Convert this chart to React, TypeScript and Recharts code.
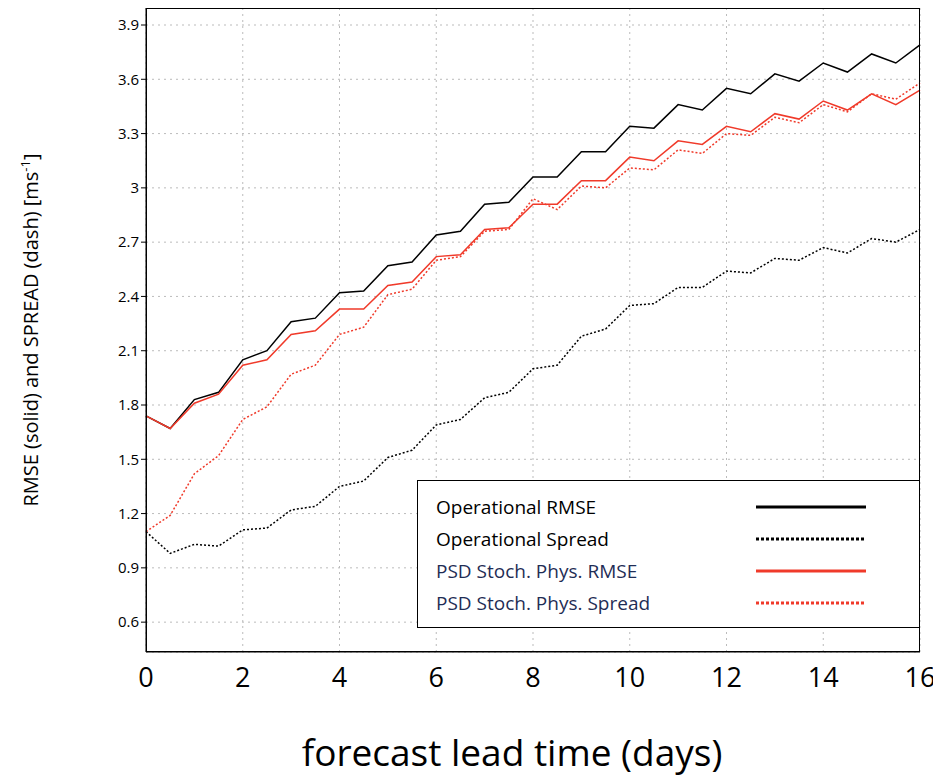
import React from "react";
import { LineChart, Line, XAxis, YAxis, CartesianGrid } from "recharts";

const days = [0,0.5,1,1.5,2,2.5,3,3.5,4,4.5,5,5.5,6,6.5,7,7.5,8,8.5,9,9.5,10,10.5,11,11.5,12,12.5,13,13.5,14,14.5,15,15.5,16];
const opRmse = [1.74,1.67,1.83,1.87,2.05,2.10,2.26,2.28,2.42,2.43,2.57,2.59,2.74,2.76,2.91,2.92,3.06,3.06,3.20,3.20,3.34,3.33,3.46,3.43,3.55,3.52,3.63,3.59,3.69,3.64,3.74,3.69,3.79];
const opSpread = [1.1,0.98,1.03,1.02,1.11,1.12,1.22,1.24,1.35,1.38,1.51,1.55,1.69,1.72,1.84,1.87,2.00,2.02,2.18,2.22,2.35,2.36,2.45,2.45,2.54,2.53,2.61,2.60,2.67,2.64,2.72,2.70,2.77];
const psdRmse = [1.74,1.67,1.81,1.86,2.02,2.05,2.19,2.21,2.33,2.33,2.46,2.48,2.62,2.63,2.77,2.78,2.91,2.91,3.04,3.04,3.17,3.15,3.26,3.24,3.34,3.31,3.41,3.38,3.48,3.43,3.52,3.46,3.54];
const psdSpread = [1.1,1.19,1.42,1.52,1.72,1.79,1.97,2.02,2.19,2.23,2.41,2.44,2.60,2.62,2.76,2.77,2.94,2.88,3.01,3.00,3.11,3.10,3.21,3.19,3.30,3.29,3.39,3.36,3.46,3.42,3.52,3.49,3.58];
const yTicks = [0.6,0.9,1.2,1.5,1.8,2.1,2.4,2.7,3,3.3,3.6,3.9];
const xTicks = [0,2,4,6,8,10,12,14,16];

const data = days.map((d, i) => ({ d, opRmse: opRmse[i], opSpread: opSpread[i], psdRmse: psdRmse[i], psdSpread: psdSpread[i] }));

const legendItems = [
  { label: "Operational RMSE", color: "#000", dash: undefined as string | undefined, tc: "#000" },
  { label: "Operational Spread", color: "#000", dash: "3 2", tc: "#000" },
  { label: "PSD Stoch. Phys. RMSE", color: "#f03a2a", dash: undefined, tc: "#1f2d55" },
  { label: "PSD Stoch. Phys. Spread", color: "#f03a2a", dash: "3 2", tc: "#1f2d55" },
];

export default function App() {
  return (
    <div style={{ position: "relative", width: 941, height: 782, fontFamily: "'Open Sans', sans-serif" }}>
      <LineChart width={941} height={782} data={data} margin={{ top: 0, right: 29, left: 78, bottom: 98 }}>
        <CartesianGrid stroke="#bbb" strokeDasharray="2 4" />
        <XAxis dataKey="d" type="number" domain={[0, 16]} ticks={xTicks} height={40}
          tick={{ fontSize: 27, fill: "#000" }} tickLine={false} axisLine={{ stroke: "#000" }} tickMargin={10} />
        <YAxis type="number" domain={[0.435, 3.994]} ticks={yTicks} width={60} allowDataOverflow
          tick={{ fontSize: 15, fill: "#000" }} tickSize={5} axisLine={{ stroke: "#000" }} tickLine={{ stroke: "#000" }} />
        <Line dataKey="opRmse" stroke="#000" strokeWidth={1.5} dot={false} isAnimationActive={false} />
        <Line dataKey="opSpread" stroke="#000" strokeWidth={1.5} strokeDasharray="2 2" dot={false} isAnimationActive={false} />
        <Line dataKey="psdRmse" stroke="#f03a2a" strokeWidth={1.5} dot={false} isAnimationActive={false} />
        <Line dataKey="psdSpread" stroke="#f03a2a" strokeWidth={1.5} strokeDasharray="2 2" dot={false} isAnimationActive={false} />
      </LineChart>
      <div style={{ position: "absolute", left: 138, top: 0, width: 774, height: 644, border: "1px solid #000", boxSizing: "border-box", pointerEvents: "none" }} />
      <div style={{ position: "absolute", left: 409, top: 472, width: 503, height: 148, border: "1px solid #000", background: "#fff", boxSizing: "border-box", padding: "10px 0 0 18px" }}>
        {legendItems.map((it) => (
          <div key={it.label} style={{ display: "flex", alignItems: "center", height: 32, fontSize: 19, color: it.tc }}>
            <span style={{ width: 320 }}>{it.label}</span>
            <svg width={110} height={6}><line x1={0} y1={3} x2={110} y2={3} stroke={it.color} strokeWidth={3} strokeDasharray={it.dash} /></svg>
          </div>
        ))}
      </div>
      <div style={{ position: "absolute", left: 22, top: 322, transform: "translate(-50%,-50%) rotate(-90deg)", whiteSpace: "nowrap", fontSize: 20 }}>
        RMSE (solid) and  SPREAD (dash) [ms<sup style={{ fontSize: 13 }}>-1</sup>]
      </div>
      <div style={{ position: "absolute", left: 0, width: 1008, top: 718, textAlign: "center", fontSize: 37, whiteSpace: "nowrap" }}>
        forecast lead time (days)
      </div>
    </div>
  );
}
